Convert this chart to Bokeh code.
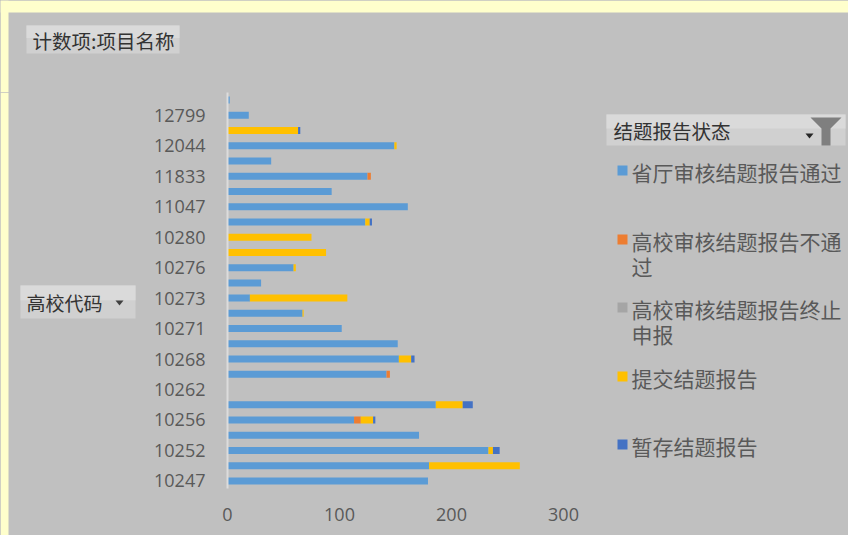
from bokeh.plotting import figure
from bokeh.layouts import column, row
from bokeh.models import Range1d, FixedTicker, Label, ColumnDataSource
from bokeh.embed import file_html
from bokeh.resources import INLINE

# ---------------- data ----------------
codes = ["10247", "10251", "10252", "10254", "10256", "10259", "10262", "10264",
         "10268", "10269", "10271", "10272", "10273", "10275", "10276", "10277",
         "10280", "10283", "11047", "11458", "11833", "11835", "12044", "12045",
         "12799", "13720"]
shown_codes = ["10247", "10252", "10256", "10262", "10268", "10271", "10273",
               "10276", "10280", "11047", "11833", "12044", "12799"]
series = ["省厅审核结题报告通过", "高校审核结题报告不通过", "高校审核结题报告终止申报",
          "提交结题报告", "暂存结题报告"]
colors = ["#5B9BD5", "#ED7D31", "#A5A5A5", "#FFC000", "#4472C4"]

passed     = [179, 180, 233, 171, 113, 186, 0, 142, 153, 152, 102, 67, 20, 30, 59, 0,
              0, 123, 161, 93, 125, 39, 149, 0, 19, 2]
rejected   = [0, 0, 0, 0, 6, 0, 0, 3, 0, 0, 0, 0, 0, 0, 0, 0,
              0, 0, 0, 0, 3, 0, 0, 0, 0, 0]
terminated = [0, 0, 0, 0, 0, 0, 0, 0, 0, 0, 0, 0, 0, 0, 0, 0,
              0, 0, 0, 0, 0, 0, 0, 0, 0, 0]
submitted  = [0, 81, 4, 0, 11, 24, 0, 0, 11, 0, 0, 1, 87, 0, 2, 88,
              75, 4, 0, 0, 0, 0, 2, 63, 0, 0]
draft      = [0, 0, 6, 0, 2, 9, 0, 0, 3, 0, 0, 0, 0, 0, 0, 0,
              0, 2, 0, 0, 0, 0, 0, 2, 0, 0]
x_ticks = [0, 100, 200, 300]

title_field = "计数项:项目名称"
axis_field = "高校代码"
legend_field = "结题报告状态"

# ---------------- style ----------------
BG = "#C0C0C0"
PAGE = "#FFFFCC"
GREY_TXT = "#595959"
DARK_TXT = "#333333"
CJK = "Noto Sans CJK SC"
NUM = "Open Sans"


def no_align(f):
    if "frame_align" in f.properties():
        f.frame_align = False


def panel(w, h, ox, oy):
    """Helper figure whose frame covers its whole canvas, in page-pixel coords."""
    f = figure(width=w, height=h, frame_width=w, frame_height=h,
               x_range=Range1d(ox, ox + w), y_range=Range1d(oy + h, oy),
               output_backend="svg", toolbar_location=None,
               x_axis_location=None, y_axis_location=None,
               min_border_left=0, min_border_right=0, min_border_top=0, min_border_bottom=0)
    f.background_fill_color = BG
    f.border_fill_color = BG
    f.outline_line_color = None
    f.grid.visible = False
    no_align(f)
    return f


def box(f, l, r, t, b, color):
    f.quad(left=[l], right=[r], top=[t], bottom=[b], fill_color=color, line_color=None)


def button(f, l, r, t, b):
    box(f, l, r, t, b, "#D0D0D0")
    box(f, l, r, t, t + (b - t) * 0.45, "#DADADA")


def lab(f, x, y, text, size, color, font=CJK):
    f.add_layout(Label(x=x, y=y, text=text, text_font=font, text_font_size=f"{size}px",
                       text_color=color, text_align="left", text_baseline="middle"))


# ---------------- top strip ----------------
p_top = panel(848, 92, 0, 0)
box(p_top, 0, 848, 0, 12, PAGE)
box(p_top, 0, 8, 0, 92, PAGE)
button(p_top, 26, 179, 25, 53)
lab(p_top, 32, 40, title_field, 19.5, DARK_TXT)

# ---------------- left strip ----------------
p_left = panel(140, 443, 0, 92)
box(p_left, 0, 8, 92, 535, PAGE)
button(p_left, 20, 135, 285, 318)
lab(p_left, 26, 302, axis_field, 19, DARK_TXT)
p_left.patch([115, 123, 119], [300, 300, 305], color="#404040", line_color=None)

# ---------------- main chart ----------------
idx = list(range(len(codes)))
src = ColumnDataSource(dict(y=idx, **dict(zip(series, [passed, rejected, terminated,
                                                        submitted, draft]))))

p = figure(width=453, height=443, frame_width=336, frame_height=396,
           x_range=Range1d(0, 300), y_range=Range1d(-0.5, len(codes) - 0.5),
           output_backend="svg", toolbar_location=None,
           min_border_left=87, min_border_right=30, min_border_top=0, min_border_bottom=47)
p.background_fill_color = None
p.border_fill_color = None
p.styles = {"background-color": BG}
p.outline_line_color = None
p.grid.visible = False
no_align(p)

p.hbar_stack(series, y="y", height=0.46, color=colors, line_color=None, source=src)

p.xaxis.ticker = FixedTicker(ticks=x_ticks)
p.xaxis.axis_line_color = None
p.xaxis.major_tick_line_color = None
p.xaxis.minor_tick_line_color = None
p.xaxis.major_label_standoff = 13
p.xaxis.major_label_text_font = NUM
p.xaxis.major_label_text_font_size = "18px"
p.xaxis.major_label_text_color = GREY_TXT

p.yaxis.ticker = FixedTicker(ticks=[i for i in idx if codes[i] in shown_codes])
p.yaxis.major_label_overrides = {i: codes[i] for i in idx if codes[i] in shown_codes}
p.yaxis.axis_line_color = "#DCDCDC"
p.yaxis.axis_line_width = 2
p.yaxis.major_tick_line_color = None
p.yaxis.minor_tick_line_color = None
p.yaxis.major_label_standoff = 16
p.yaxis.major_label_text_font = NUM
p.yaxis.major_label_text_font_size = "18px"
p.yaxis.major_label_text_color = GREY_TXT

# ---------------- legend strip ----------------
p_leg = panel(255, 443, 593, 92)
button(p_leg, 606, 845, 114, 145)
lab(p_leg, 613, 130, legend_field, 19.5, DARK_TXT)
p_leg.patch([805, 813, 809], [133, 133, 138], color="#262626", line_color=None)
p_leg.patch([810, 841, 830, 830, 821, 821], [117, 117, 128, 145, 145, 128],
            color="#7F7F7F", line_color=None)

first_line_y = [171, 240, 308, 377, 445]
for s, c, yy in zip(series, colors, first_line_y):
    box(p_leg, 617, 627, yy - 6, yy + 4, c)
    lines = [s[i:i + 10] for i in range(0, len(s), 10)]
    for k, line in enumerate(lines):
        lab(p_leg, 631, yy + 25.5 * k, line, 21, GREY_TXT)

layout = column(p_top, row(p_left, p, p_leg, spacing=0), spacing=0)
layout.styles = {"background-color": BG}

open("out.html", "w").write(file_html(layout, INLINE))
